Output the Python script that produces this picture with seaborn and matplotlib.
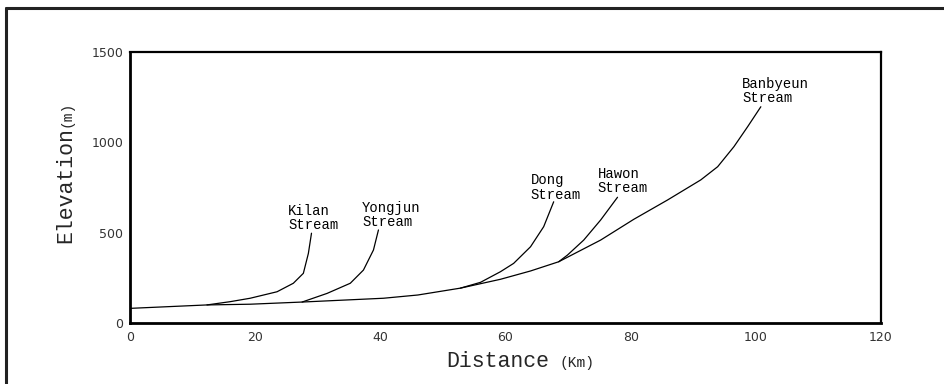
import matplotlib
matplotlib.use("Agg")
import matplotlib.pyplot as plt
from matplotlib.lines import Line2D
import seaborn as sns
import pandas as pd

# ---- data ----
banbyeun_x = [0, 12.3, 19.2, 27.5, 40.5, 46, 52.8, 59.2, 64, 68.5, 75.2, 80.5, 85.9, 91.2, 93.9, 96.5, 98.7, 100.8]
banbyeun_y = [81, 100, 104, 116, 137, 155, 193, 242, 288, 339, 459, 574, 681, 792, 865, 976, 1087, 1197]

kilan_x = [12.3, 16, 19.2, 23.5, 26.1, 27.7, 28.5, 29.0]
kilan_y = [100, 118, 137, 173, 220, 275, 385, 497]

yongjun_x = [27.5, 31.5, 35.2, 37.3, 38.9, 39.7]
yongjun_y = [116, 164, 220, 293, 404, 515]

dong_x = [52.8, 56, 59.2, 61.3, 64, 66.1, 67.7]
dong_y = [193, 225, 284, 330, 422, 533, 671]

hawon_x = [68.5, 69.9, 72.5, 75.2, 77.9]
hawon_y = [339, 376, 459, 570, 696]

stream_names = ["Banbyeun", "Kilan", "Yongjun", "Dong", "Hawon"]
label_x = [97.8, 25.3, 37.1, 64.0, 74.7]
label_y = [1284, 581, 598, 750, 786]

x_ticks = [0, 20, 40, 60, 80, 100, 120]
y_ticks = [0, 500, 1000, 1500]

# ---- build table ----
frames = []
for name, xs, ys in [("Banbyeun", banbyeun_x, banbyeun_y), ("Kilan", kilan_x, kilan_y),
                     ("Yongjun", yongjun_x, yongjun_y), ("Dong", dong_x, dong_y),
                     ("Hawon", hawon_x, hawon_y)]:
    frames.append(pd.DataFrame({"stream": name, "distance": xs, "elevation": ys}))
df = pd.concat(frames, ignore_index=True)

sns.set_style("white")
plt.rcParams["font.family"] = ["DejaVu Sans"]

fig = plt.figure(figsize=(9.45, 3.84), dpi=100)
ax = fig.add_axes([130/945, 1-323/384, (881-130)/945, (323-52)/384])

for name in stream_names:
    sub = df[df["stream"] == name]
    sns.lineplot(data=sub, x="distance", y="elevation", ax=ax, sort=False,
                 estimator=None, color="black", linewidth=0.9)

ax.set_xlim(0, 120)
ax.set_ylim(0, 1500)
ax.set_xticks(x_ticks)
ax.set_yticks(y_ticks)
ax.set_xticklabels([str(t) for t in x_ticks])
ax.set_yticklabels([str(t) for t in y_ticks])
ax.tick_params(axis="both", length=0, labelsize=9, labelcolor="#333333")
ax.tick_params(axis="x", pad=6)
ax.tick_params(axis="y", pad=5)
ax.set_xlabel("")
ax.set_ylabel("")

for side, lw in [("left", 2.0), ("bottom", 2.0), ("top", 1.6), ("right", 1.6)]:
    ax.spines[side].set_visible(True)
    ax.spines[side].set_color("black")
    ax.spines[side].set_linewidth(lw)

mono = ["Liberation Mono", "DejaVu Sans Mono"]
for name, lx, ly in zip(stream_names, label_x, label_y):
    ax.text(lx, ly, f"{name}\nStream", family=mono, fontsize=10, ha="left",
            va="center", linespacing=1.05, color="black")

# axis titles
fig.text(446/945, 1-367/384, "Distance", family=mono, fontsize=15.5,
         ha="left", va="baseline")
fig.text(559/945, 1-367/384, "(Km)", family=mono, fontsize=10.5,
         ha="left", va="baseline")
fig.text(71/945, 1-243/384, "Elevation", family=mono, fontsize=15.5,
         rotation=90, rotation_mode="anchor", ha="left", va="baseline")
fig.text(71/945, 1-127/384, "(m)", family=mono, fontsize=10.5,
         rotation=90, rotation_mode="anchor", ha="left", va="baseline")

# outer frame (left and top edges)
fig.add_artist(Line2D([6/945, 6/945], [0, 1-8/384], color="#222222", linewidth=2.2,
                      transform=fig.transFigure))
fig.add_artist(Line2D([6/945, 1], [1-8/384, 1-8/384], color="#222222", linewidth=2.2,
                      transform=fig.transFigure))

fig.savefig("out.png", dpi=100, facecolor="white")
